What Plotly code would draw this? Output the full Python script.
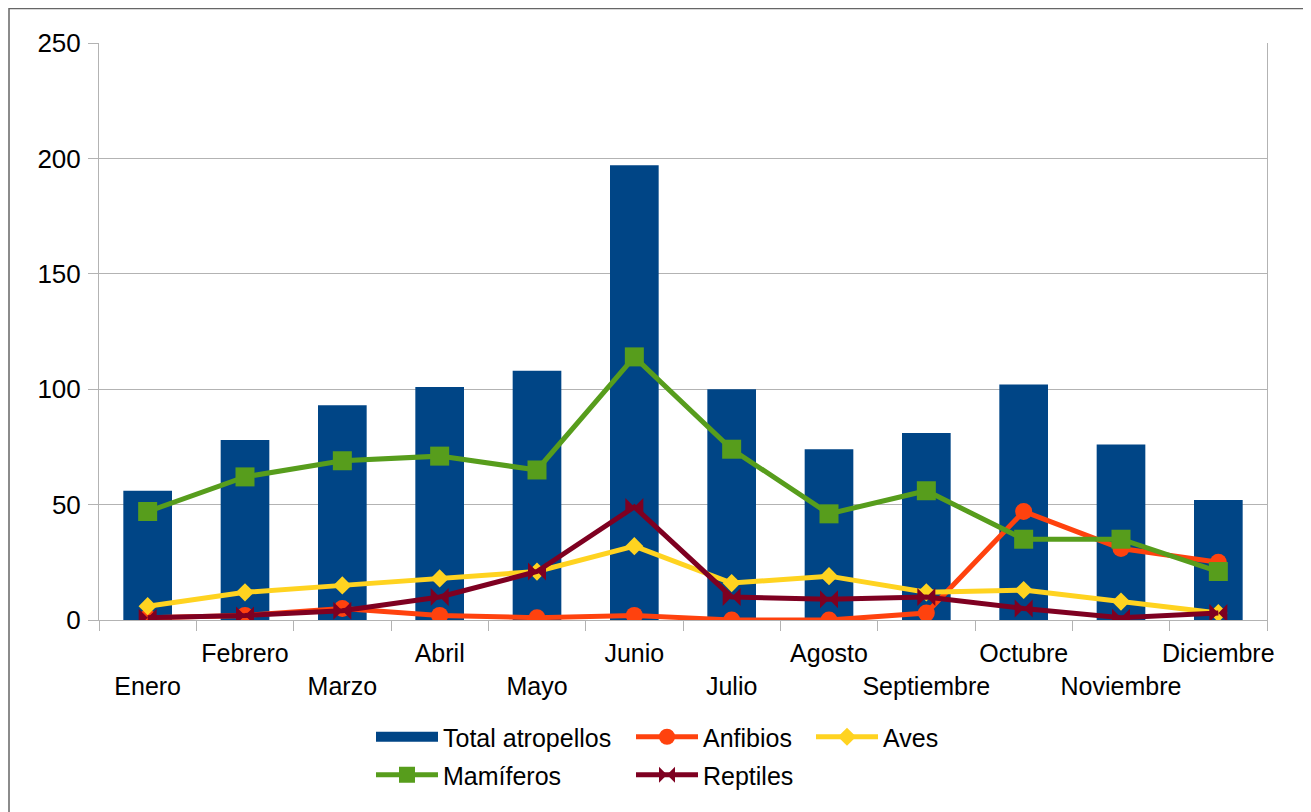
import plotly.graph_objects as go

months = ["Enero", "Febrero", "Marzo", "Abril", "Mayo", "Junio", "Julio",
          "Agosto", "Septiembre", "Octubre", "Noviembre", "Diciembre"]
total = [56, 78, 93, 101, 108, 197, 100, 74, 81, 102, 76, 52]
anfibios = [1, 2, 5, 2, 1, 2, 0, 0, 3, 47, 31, 25]
aves = [6, 12, 15, 18, 21, 32, 16, 19, 12, 13, 8, 3]
mamiferos = [47, 62, 69, 71, 65, 114, 74, 46, 56, 35, 35, 21]
reptiles = [1, 2, 4, 10, 21, 49, 10, 9, 10, 5, 1, 3]
y_ticks = [0, 50, 100, 150, 200, 250]

# staggered tick labels: every other one drops to a second row
tick_text = [("<br>" + m) if i % 2 == 0 else m for i, m in enumerate(months)]

FONT = "Liberation Sans, Arial, sans-serif"
GRID = "#b3b3b3"

OFF = 8  # page body margin
W, H = 1296, 804
# plot area in screen pixels: x 99..1267, y 43..620
L, R, T, B = 99 - OFF, W - (1267 - OFF), 43 - OFF, H - (620 - OFF)
PW, PH = W - L - R, H - T - B


def px_x(px):
    return (px - OFF - L) / PW


def px_y(py):
    return (H - B - (py - OFF)) / PH


fig = go.Figure()

fig.add_trace(go.Bar(
    x=months, y=total, name="Total atropellos",
    marker=dict(color="#004586", line=dict(width=0)),
    showlegend=False,
))
# legend swatch for the bar series
fig.add_trace(go.Scatter(
    x=[None], y=[None], mode="lines", name="Total atropellos",
    line=dict(color="#004586", width=10), legend="legend",
    hoverinfo="skip",
))

line_series = [
    ("Anfibios", anfibios, "#ff420e", "circle", 17, "legend2"),
    ("Aves", aves, "#ffd320", "diamond", 14, "legend3"),
    ("Mamíferos", mamiferos, "#579d1c", "square", 19, "legend4"),
    ("Reptiles", reptiles, "#7e0021", "bowtie", 18, "legend5"),
]
for name, vals, col, sym, size, leg in line_series:
    fig.add_trace(go.Scatter(
        x=months, y=vals, name=name, mode="lines+markers",
        line=dict(color=col, width=5),
        marker=dict(color=col, symbol=sym, size=size, line=dict(width=0)),
        legend=leg,
    ))

leg_common = dict(
    xanchor="left", yanchor="middle", bgcolor="rgba(0,0,0,0)",
    borderwidth=0, font=dict(family=FONT, size=25, color="black"),
    itemwidth=62, orientation="v", itemsizing="trace",
)
row1, row2 = 737, 775
c1, c2, c3 = 371, 631, 811
fig.update_layout(
    legend=dict(x=px_x(c1), y=px_y(row1), **leg_common),
    legend2=dict(x=px_x(c2), y=px_y(row1), **leg_common),
    legend3=dict(x=px_x(c3), y=px_y(row1), **leg_common),
    legend4=dict(x=px_x(c1), y=px_y(row2), **leg_common),
    legend5=dict(x=px_x(c2), y=px_y(row2), **leg_common),
)

fig.update_layout(
    width=W, height=H,
    margin=dict(l=L, r=R, t=T, b=B, pad=0),
    paper_bgcolor="white", plot_bgcolor="white",
    font=dict(family=FONT, size=24, color="black"),
    bargap=0.5,
    showlegend=True,
    xaxis=dict(
        type="category", tickmode="array", tickvals=months, ticktext=tick_text,
        range=[-0.5, len(months) - 0.5], autorange=False,
        tickson="boundaries", ticks="outside", ticklen=10, tickcolor=GRID,
        tickwidth=1, showline=True, linecolor=GRID, linewidth=1,
        showgrid=False, automargin=False, tickangle=0, ticklabelstandoff=11,
        tickfont=dict(family=FONT, size=25, color="black"),
    ),
    yaxis=dict(
        range=[0, 250], tickmode="array", tickvals=y_ticks,
        showgrid=True, gridcolor=GRID, gridwidth=1,
        ticks="outside", ticklen=10, tickcolor=GRID, tickwidth=1,
        showline=True, mirror=True, linecolor=GRID, linewidth=1,
        zeroline=False, automargin=False, ticklabelstandoff=2,
        tickfont=dict(family=FONT, size=26, color="black"),
    ),
    shapes=[dict(
        type="rect", xref="paper", yref="paper",
        x0=px_x(9), x1=px_x(1304), y0=px_y(840), y1=px_y(8.5),
        line=dict(color="#666666", width=1.5), fillcolor="rgba(0,0,0,0)",
        layer="below",
    )],
)

fig.write_html("out.html")
